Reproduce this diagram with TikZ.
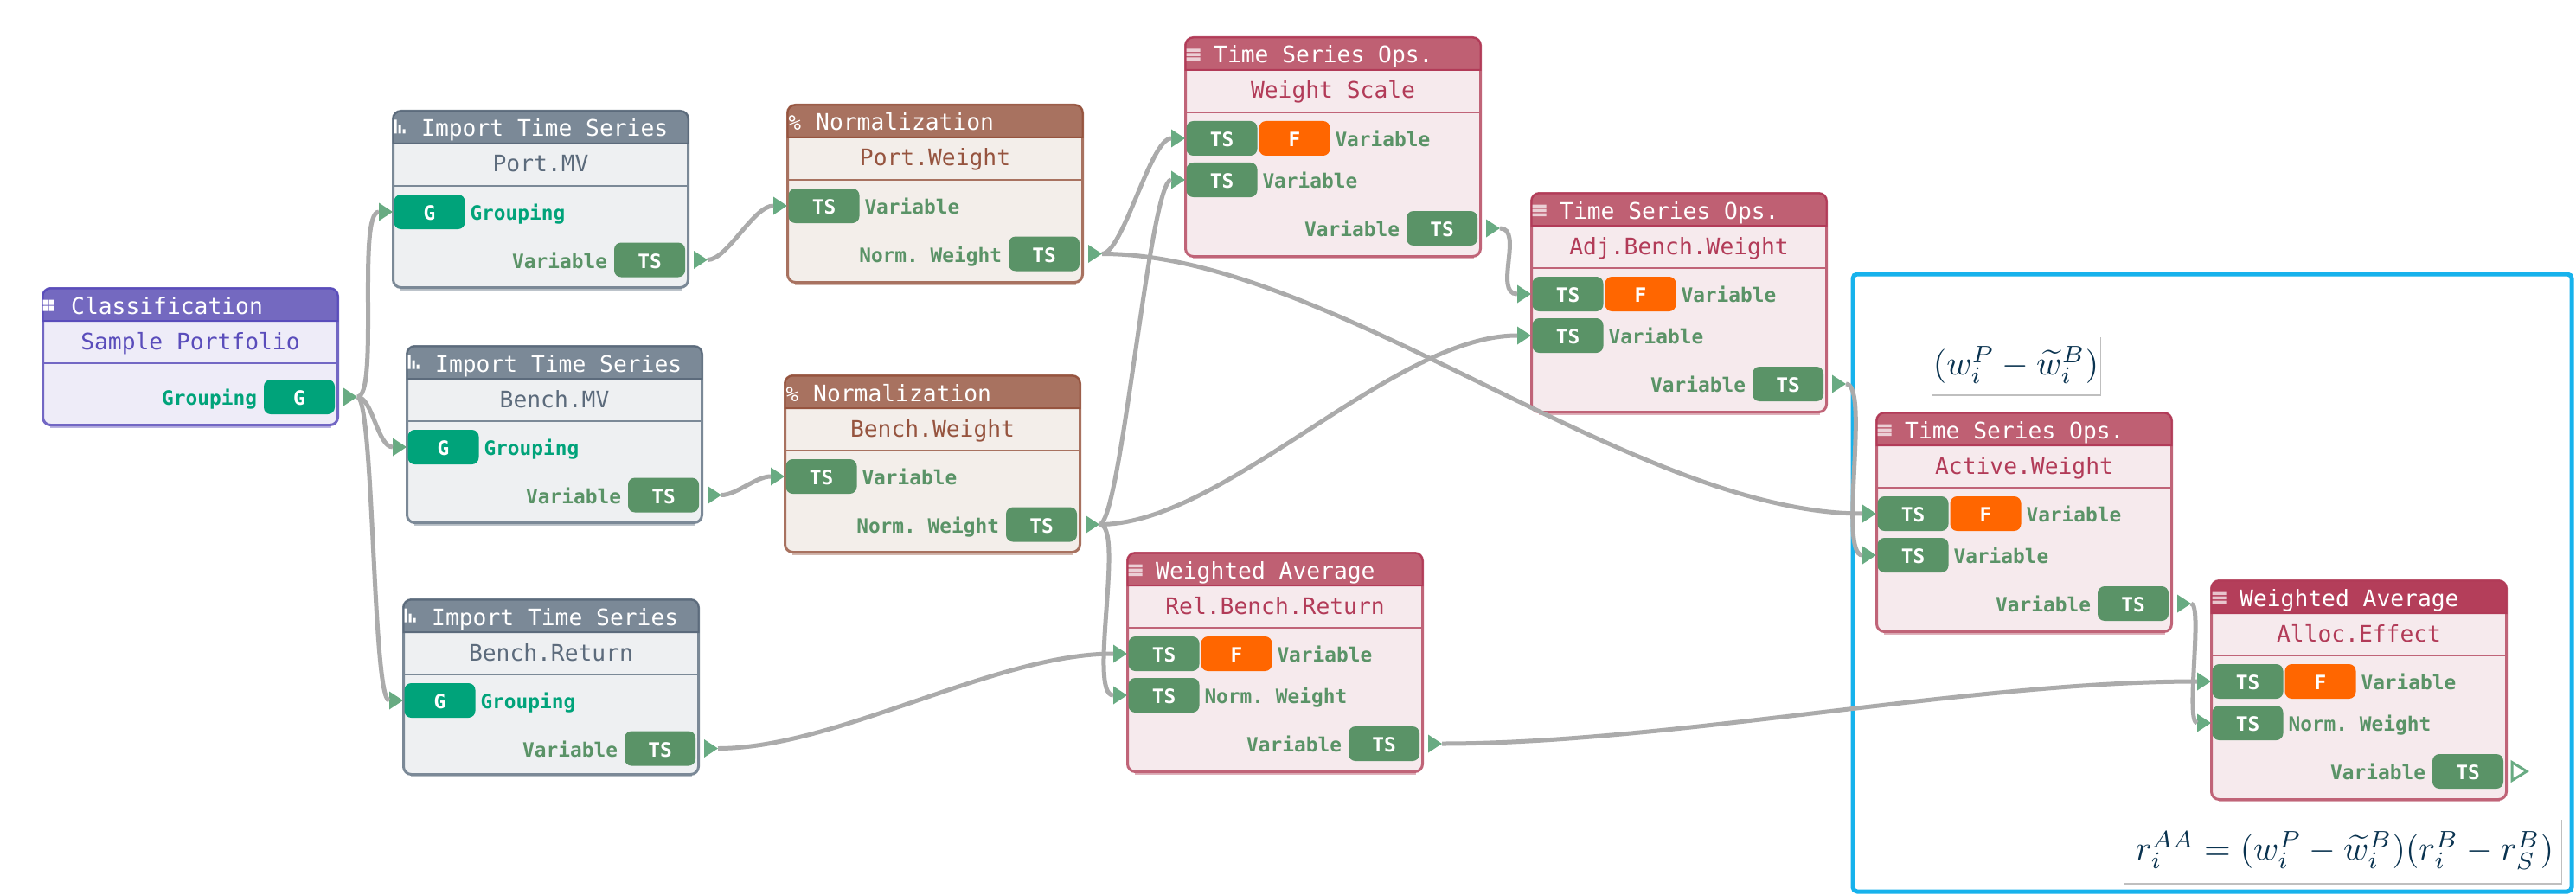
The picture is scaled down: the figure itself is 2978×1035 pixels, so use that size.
\documentclass[tikz,border=0pt]{standalone}
\usepackage{fontspec}
\usepackage{graphicx}
\setmonofont{DejaVu Sans Mono}
\usetikzlibrary{positioning,calc,shapes.geometric,shadows}

\definecolor{violetH}{HTML}{7469C0}
\definecolor{violetL}{HTML}{7267C4}
\definecolor{violetF}{HTML}{EEECF8}
\definecolor{violetT}{HTML}{5A4DBB}
\definecolor{slateH}{HTML}{7B8997}
\definecolor{slateL}{HTML}{7B8997}
\definecolor{slateF}{HTML}{EEF0F2}
\definecolor{slateT}{HTML}{5C6B7C}
\definecolor{umberH}{HTML}{A87260}
\definecolor{umberL}{HTML}{A87260}
\definecolor{umberF}{HTML}{F3EEEA}
\definecolor{umberT}{HTML}{96543F}
\definecolor{roseH}{HTML}{BF6073}
\definecolor{roseL}{HTML}{C06478}
\definecolor{roseF}{HTML}{F6EAED}
\definecolor{roseT}{HTML}{B23B58}
\definecolor{hotH}{HTML}{B43E5A}
\definecolor{hotL}{HTML}{C06478}
\definecolor{hotF}{HTML}{F6EAED}
\definecolor{hotT}{HTML}{B23B58}
\definecolor{tsgreen}{HTML}{5A9367}
\definecolor{ggreen}{HTML}{00A37A}
\definecolor{forange}{HTML}{FF6600}
\definecolor{tipgreen}{HTML}{68AB82}
\definecolor{linkgrey}{HTML}{ABABAB}
\definecolor{framecyan}{HTML}{17B2EC}
\definecolor{mathink}{HTML}{0A3350}

\tikzset{
  bodybox/.style={rectangle,rounded corners=9pt,line width=3pt,inner sep=0pt,outer sep=0pt,
    minimum width=341pt,anchor=north west},
  titletext/.style={font=\ttfamily\fontsize{26.3}{30}\selectfont,text=white,inner sep=0pt,anchor=base west},
  nametext/.style={font=\ttfamily\fontsize{26.3}{30}\selectfont,inner sep=0pt,anchor=base},
  portbox/.style={rectangle,rounded corners=8pt,inner sep=0pt,outer sep=0pt,minimum height=40pt,
    minimum width=82pt,text=white,text height=19pt,text depth=0pt,
    font=\ttfamily\bfseries\fontsize{22.8}{26}\selectfont},
  tsport/.style={portbox,fill=tsgreen},
  gport/.style={portbox,fill=ggreen},
  fport/.style={portbox,fill=forange},
  portlabel/.style={inner sep=0pt,outer sep=0pt,text height=19pt,text depth=0pt,
    font=\ttfamily\bfseries\fontsize{22.8}{26}\selectfont},
  tslabel/.style={portlabel,text=tsgreen},
  glabel/.style={portlabel,text=ggreen},
  tipmark/.style={isosceles triangle,isosceles triangle stretches,inner sep=0pt,outer sep=0pt,
    minimum height=16pt,minimum width=21pt,fill=tipgreen,anchor=lower side},
  tipopen/.style={tipmark,fill=white,draw=tipgreen,line width=3pt,minimum height=17pt,minimum width=21pt},
  link/.style={draw=linkgrey,line width=5pt,to path={let \p1=(\tikztostart),\p2=(\tikztotarget),
    \n1={max(0.3*(\x2-\x1),38pt-0.5*(\x2-\x1))} in .. controls (\x1+\n1,\y1) and (\x2-\n1,\y2) .. (\tikztotarget)}},
  tightlink/.style={draw=linkgrey,line width=5pt,to path={let \p1=(\tikztostart),\p2=(\tikztotarget)
    in .. controls (\x1+14pt,\y1) and (\x2-14pt,\y2) .. (\tikztotarget)}},
  framebox/.style={rectangle,draw=framecyan,line width=5pt,rounded corners=5pt,inner sep=0pt},
  mathbox/.style={rectangle,fill=white,inner sep=0pt,text=mathink,
    drop shadow={shadow xshift=1pt,shadow yshift=-2pt,opacity=0.25,fill=black}},
}

% header icons
\newcommand{\iconsquares}[1]{
  \fill[white] ([shift={(0,13)}]#1.north west) rectangle ++(6,6) ([shift={(7,13)}]#1.north west) rectangle ++(6,6)
    ([shift={(0,20)}]#1.north west) rectangle ++(6,6) ([shift={(7,20)}]#1.north west) rectangle ++(6,6);
}
\newcommand{\iconbars}[1]{
  \fill[white] ([shift={(1,10)}]#1.north west) rectangle ++(3,16) ([shift={(6,16)}]#1.north west) rectangle ++(3,10)
    ([shift={(11,21)}]#1.north west) rectangle ++(3,5);
}
\newcommand{\iconlines}[1]{
  \fill[white,opacity=0.7] ([shift={(1,13)}]#1.north west) rectangle ++(16,3.5) ([shift={(1,18)}]#1.north west) rectangle ++(16,3.5)
    ([shift={(1,23)}]#1.north west) rectangle ++(16,3.5);
}
\newcommand{\iconpct}[1]{
  \node[titletext,font=\ttfamily\fontsize{24}{28}\selectfont] (#1-pct) at ([shift={(1,29.5)}]#1.north west) {\%};
}

% id, left, top, height, palette, title, name, icon
\newcommand{\opbox}[8]{
  \node[bodybox,draw=#5L,fill=#5F,minimum height=#4pt-3pt] (#1) at (#2+1.5,#3+1.5) {};
  \path[fill=#5H,draw=#5T,line width=2pt,rounded corners=9pt] ([shift={(0,37.5)}]#1.north west) -- (#1.north west)
    -- (#1.north east) [sharp corners] -- ([shift={(0,37.5)}]#1.north east) -- cycle;
  \draw[#5L,line width=2.5pt] ([shift={(0,86.5)}]#1.north west) -- ([shift={(0,86.5)}]#1.north east);
  \draw[#5L,opacity=0.5,line width=2pt] ([shift={(8,2)}]#1.south west) -- ([shift={(-8,2)}]#1.south east);
  #8{#1}
  \node[titletext] (#1-title) at ([shift={(32.5,29.5)}]#1.north west) {#6};
  \node[nametext,text=#5T] (#1-name) at ([shift={(0,70.5)}]#1.north) {#7};
}
% id, port, offset, kind, label
\newcommand{\inrow}[5]{
  \node[#4port,anchor=west] (#1-#2) at ([shift={(1,#3)}]#1.north west) {\MakeUppercase{#4}};
  \node[tipmark] (#1-#2-tip) at ([shift={(-16.5,#3)}]#1.north west) {};
  \node[#4label,right=6pt of #1-#2] (#1-#2-label) {#5};
}
% id, port, offset, label
\newcommand{\infrow}[4]{
  \node[tsport,anchor=west] (#1-#2) at ([shift={(1,#3)}]#1.north west) {TS};
  \node[fport,right=2pt of #1-#2] (#1-#2-f) {F};
  \node[tipmark] (#1-#2-tip) at ([shift={(-16.5,#3)}]#1.north west) {};
  \node[tslabel,right=6pt of #1-#2-f] (#1-#2-label) {#4};
}
% id, offset, kind, label, tip style
\newcommand{\outrow}[5]{
  \node[#3port,anchor=east] (#1-o) at ([shift={(-3.5,#2)}]#1.north east) {\MakeUppercase{#3}};
  \node[#5] (#1-o-tip) at ([shift={(6.5,#2)}]#1.north east) {};
  \node[#3label,left=8pt of #1-o] (#1-o-label) {#4};
}

\begin{document}
\begin{tikzpicture}[x=1pt,y=-1pt]
  \path[use as bounding box,fill=white] (0,0) rectangle (2978,1035);

  \node[framebox,minimum width=831pt,minimum height=714pt] (frame) at (2557.5,674) {};
  \node[mathbox,minimum width=195pt,minimum height=68pt] (activeformula) at (2330.5,422)
    {\raisebox{-3pt}{\scalebox{3.95}{$(w_i^P-\widetilde{w}_i^B)$}}};
  \node[mathbox,minimum width=507pt,minimum height=75pt] (allocformula) at (2707.5,983.5)
    {\hspace{6pt}\raisebox{-2pt}{\scalebox{3.95}{$r_i^{AA}=(w_i^P-\widetilde{w}_i^B)(r_i^B-r_S^B)$}}};

  \opbox{cls}{48}{332}{161}{violet}{Classification}{Sample Portfolio}{\iconsquares}
  \outrow{cls}{125.5}{g}{Grouping}{tipmark}

  \opbox{pm}{453}{127}{207}{slate}{Import Time Series}{Port.MV}{\iconbars}
  \inrow{pm}{a}{116.5}{g}{Grouping}
  \outrow{pm}{172}{ts}{Variable}{tipmark}

  \opbox{bm}{469}{399}{207}{slate}{Import Time Series}{Bench.MV}{\iconbars}
  \inrow{bm}{a}{116.5}{g}{Grouping}
  \outrow{bm}{172}{ts}{Variable}{tipmark}

  \opbox{br}{465}{692}{205}{slate}{Import Time Series}{Bench.Return}{\iconbars}
  \inrow{br}{a}{116.5}{g}{Grouping}
  \outrow{br}{172}{ts}{Variable}{tipmark}

  \opbox{pw}{909}{120}{208}{umber}{Normalization}{Port.Weight}{\iconpct}
  \inrow{pw}{a}{116.5}{ts}{Variable}
  \outrow{pw}{172}{ts}{Norm. Weight}{tipmark}

  \opbox{bw}{906}{433}{207}{umber}{Normalization}{Bench.Weight}{\iconpct}
  \inrow{bw}{a}{116.5}{ts}{Variable}
  \outrow{bw}{172}{ts}{Norm. Weight}{tipmark}

  \opbox{ws}{1369}{42}{256}{rose}{Time Series Ops.}{Weight Scale}{\iconlines}
  \infrow{ws}{a}{116.5}{Variable}
  \inrow{ws}{b}{164.5}{ts}{Variable}
  \outrow{ws}{220.5}{ts}{Variable}{tipmark}

  \opbox{ab}{1769}{222}{256}{rose}{Time Series Ops.}{Adj.Bench.Weight}{\iconlines}
  \infrow{ab}{a}{116.5}{Variable}
  \inrow{ab}{b}{164.5}{ts}{Variable}
  \outrow{ab}{220.5}{ts}{Variable}{tipmark}

  \opbox{rb}{1302}{638}{256}{rose}{Weighted Average}{Rel.Bench.Return}{\iconlines}
  \infrow{rb}{a}{116.5}{Variable}
  \inrow{rb}{b}{164.5}{ts}{Norm. Weight}
  \outrow{rb}{220.5}{ts}{Variable}{tipmark}

  \opbox{aw}{2168}{476}{256}{rose}{Time Series Ops.}{Active.Weight}{\iconlines}
  \infrow{aw}{a}{116.5}{Variable}
  \inrow{aw}{b}{164.5}{ts}{Variable}
  \outrow{aw}{220.5}{ts}{Variable}{tipmark}

  \opbox{ae}{2555}{670}{256}{hot}{Weighted Average}{Alloc.Effect}{\iconlines}
  \infrow{ae}{a}{116.5}{Variable}
  \inrow{ae}{b}{164.5}{ts}{Norm. Weight}
  \outrow{ae}{220.5}{ts}{Variable}{tipopen}

  \path[link]
    (cls-o-tip.apex) edge (pm-a-tip.lower side)
    (cls-o-tip.apex) edge (bm-a-tip.lower side)
    (cls-o-tip.apex) edge (br-a-tip.lower side)
    (pm-o-tip.apex) edge (pw-a-tip.lower side)
    (bm-o-tip.apex) edge (bw-a-tip.lower side)
    (br-o-tip.apex) edge (rb-a-tip.lower side)
    (pw-o-tip.apex) edge (ws-a-tip.lower side)
    (pw-o-tip.apex) edge (aw-a-tip.lower side)
    (bw-o-tip.apex) edge (ws-b-tip.lower side)
    (bw-o-tip.apex) edge (ab-b-tip.lower side)
    (bw-o-tip.apex) edge (rb-b-tip.lower side)
    (ws-o-tip.apex) edge (ab-a-tip.lower side)
    (ab-o-tip.apex) edge (aw-b-tip.lower side)
    (rb-o-tip.apex) edge (ae-a-tip.lower side);
  \path[tightlink]
    (aw-o-tip.apex) edge (ae-b-tip.lower side);
\end{tikzpicture}
\end{document}
